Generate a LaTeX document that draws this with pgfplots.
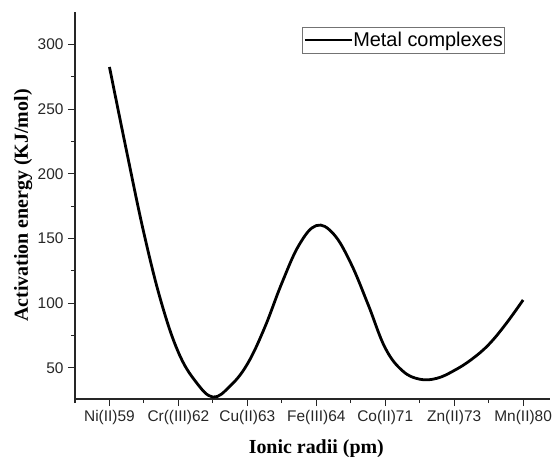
\documentclass[border=0pt]{standalone}
\usepackage{fontspec}
\setmainfont{Liberation Serif}
\setsansfont{Liberation Sans}
\usepackage{pgfplots}
\pgfplotsset{compat=1.18}
\begin{document}
\begin{tikzpicture}
\begin{axis}[
  at={(75bp,58bp)}, anchor=south west,
  width=475bp, height=387bp, scale only axis,
  xmin=-0.5, xmax=6.39, ymin=26, ymax=325,
  axis x line*=bottom, axis y line*=left,
  axis line style={-, line width=1.1bp, black!85},
  xtick={0,1,2,3,4,5,6},
  xticklabels={Ni(II)59, Cr((III)62, Cu(II)63, Fe(III)64, Co(II)71, Zn(II)73, Mn(II)80},
  minor xtick={-0.5,0.5,1.5,2.5,3.5,4.5,5.5},
  ytick={50,100,150,200,250,300},
  minor ytick={75,125,175,225,275},
  tick align=outside,
  major tick length=7bp, minor tick length=4bp,
  every tick/.style={line width=1.1bp, black!85},
  /pgf/number format/assume math mode=true,
  tick label style={font=\sffamily\fontsize{15.5}{17}\selectfont, text=black!85},
  xticklabel style={yshift=-1bp},
  yticklabel style={xshift=-1bp},
  xlabel={Ionic radii (pm)},
  ylabel={Activation energy (KJ/mol)},
  xlabel style={at={(axis description cs:0.508,0)}, anchor=base, yshift=-54bp, font=\bfseries\fontsize{20}{22}\selectfont},
  ylabel style={at={(axis description cs:-0.109,0.5)}, anchor=center, font=\bfseries\fontsize{20}{22}\selectfont},
  legend style={at={(axis description cs:0.477,0.962)}, anchor=north west,
    draw=black!55, line width=0.8bp, inner xsep=1.5bp, inner ysep=3bp,
    font=\sffamily\fontsize{20}{22}\selectfont,
    nodes={inner xsep=0bp, inner ysep=2bp}},
  legend image code/.code={\draw[#1] (0bp,0bp) -- (47bp,0bp);},
]
\addplot[black, line width=2.8bp, smooth, tension=0.65] coordinates {
(0,282.5) (0.25,217) (0.5,154) (0.75,101) (1.0,62) (1.25,39.5) (1.5,27.5)
(1.75,36) (2.0,53) (2.25,81) (2.5,115.5) (2.75,145) (3.0,160) (3.25,153.5)
(3.5,131) (3.75,99.2) (4.0,65.4) (4.25,47.8) (4.5,41.3) (4.75,42) (5.0,48)
(5.25,56.5) (5.5,68) (5.75,84) (6.0,102.5)
};
\addlegendentry{Metal complexes}
\end{axis}
\pgfresetboundingbox
\useasboundingbox (0,0) rectangle (552bp,457bp);
\end{tikzpicture}
\end{document}
